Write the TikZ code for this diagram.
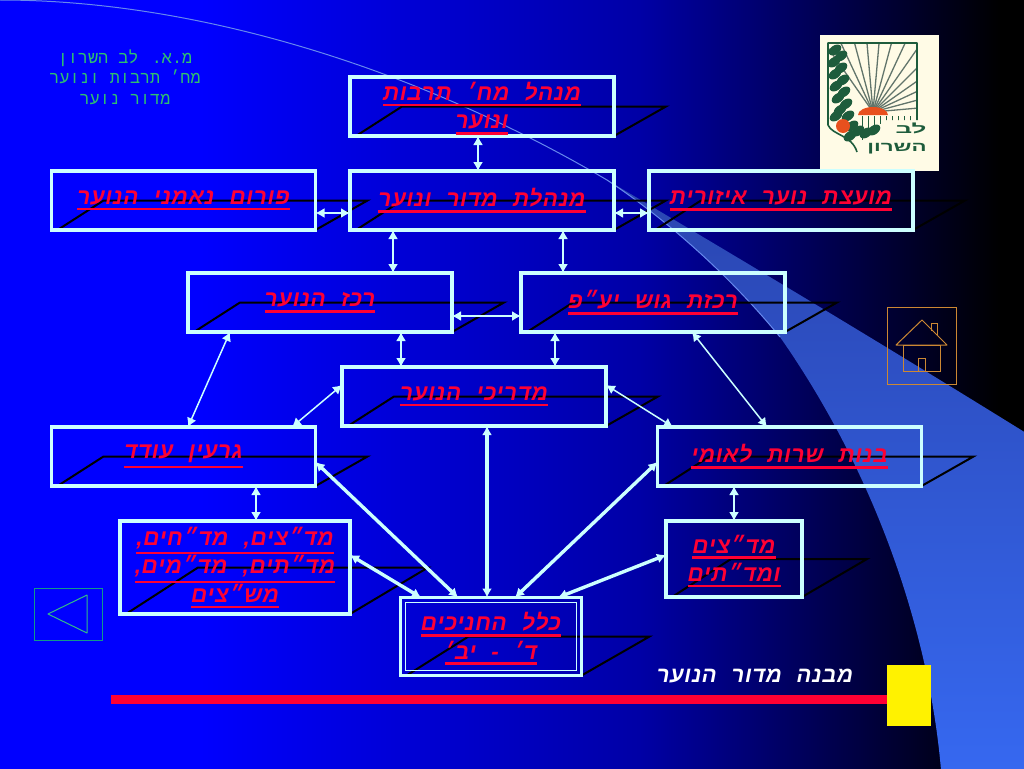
\documentclass[tikz,border=0pt]{standalone}
\usepackage{fontspec}
\usetikzlibrary{arrows.meta,calc,backgrounds}
\TeXXeTstate=1
\newfontfamily\hebfont[Script=Hebrew,WordSpace=2.2,LetterSpace=3]{Liberation Sans}
\newfontfamily\hebhead[Script=Hebrew]{Liberation Mono}
\newfontfamily\heblogo[Script=Hebrew]{Liberation Sans}
\definecolor{PaleCyan}{HTML}{CCFFFF}
\definecolor{SlideRed}{HTML}{FF0033}
\definecolor{SwooshTop}{HTML}{2A45B0}
\definecolor{SwooshLow}{HTML}{3668F0}
\definecolor{SwooshLine}{HTML}{6688EE}
\definecolor{HeadGreen}{HTML}{2FC070}
\definecolor{HomeOrange}{HTML}{CC8833}
\definecolor{BackTeal}{HTML}{119988}
\definecolor{BackGreen}{HTML}{33BB88}
\definecolor{LogoGreen}{HTML}{1E5C3C}
\definecolor{LogoCream}{HTML}{FFFBE6}
\definecolor{LogoSun}{HTML}{E8501E}
\newcommand{\hebline}[1]{\leavevmode\vtop{\hbox{\beginR #1\endR}\kern3.2pt\hrule height 2.3pt}}
\newcommand{\hebfirst}[1]{\leavevmode\vtop{\hbox{\rule{0pt}{22pt}\beginR #1\endR}\kern3.2pt\hrule height 2.3pt}}
\tikzset{
  panel/.style={draw=PaleCyan, line width=3.4pt, outer sep=0pt, inner sep=0pt, minimum height=59pt, minimum width=264pt, align=center, text=SlideRed, font=\hebfont\bfseries\itshape\fontsize{22.5}{28.5}\selectfont},
  thinlink/.style={<->, PaleCyan, line width=1.5pt},
  thicklink/.style={<->, PaleCyan, line width=3.4pt},
  shadowline/.style={black, line width=2pt},
}
\begin{document}
\begin{tikzpicture}[x=1pt, y=-1pt, >={Latex[length=9pt,width=10pt]}]
  \useasboundingbox (0,0) rectangle (1024,768);
  \begin{scope}[on background layer]
    \fill[blue] (-2,-2) rectangle (200.5,770);
    \shade[left color=blue, right color=blue!65!black] (200,-2) rectangle (640.5,770);
    \shade[left color=blue!65!black, right color=black] (640,-2) rectangle (1000.5,770);
    \fill[black] (1000,-2) rectangle (1026,770);
    %% swoosh
    \shade[top color=SwooshTop, bottom color=SwooshLow] (607,180) .. controls (700,235) and (860,330) .. (1026,433) -- (1026,770) -- (941,770) .. controls (930,640) and (880,480) .. (780,337) .. controls (725,270) and (660,215) .. (607,180) -- cycle;
    \draw[SwooshLine, line width=1pt] (0,0) .. controls (200,0) and (420,70) .. (607,180) .. controls (660,215) and (725,270) .. (780,337);
  \end{scope}

  %% Logo
  \fill[LogoCream] (820,35) rectangle (939,171);
  \begin{scope}
    \clip (828,43) -- (917,43) -- (917,120) -- (885,120) -- (857,145) -- (857,152) -- (850,140) -- (828,125) -- cycle;
    \foreach \ang in {125,115,105,95,85,75,65,55,45,35,25,15,5}
      \draw[gray!70!LogoGreen, line width=1.3pt] (873,112) -- ++(\ang:90pt);
    \foreach \stripe in {862,868,874,880,886,892,898,904,910}
      \draw[LogoGreen, line width=1pt] (\stripe,116) -- (\stripe,145);
  \end{scope}
  \draw[LogoGreen, line width=1.6pt, line join=round] (917,120) -- (917,43) -- (828,43) -- (828,125) .. controls (832,135) and (852,135) .. (857,152);
  \foreach \px/\py in {835/50,841/56,834/62,841/68,835/74,843/80,836/86,844/92,838/98,846/104,840/110,848/116,836/116,852/126,858/131,866/133,874/130,850/136}
    \fill[LogoGreen, rotate around={35:(\px,\py)}] (\px,\py) ellipse (7pt and 4.5pt);
  \fill[LogoSun] (858,115) arc[start angle=180, end angle=360, x radius=15, y radius=8] -- cycle;
  \fill[LogoSun] (843,126) circle (7pt);
  \node[LogoGreen, inner sep=0pt, xscale=2, transform shape, font=\heblogo\bfseries\fontsize{13}{13}\selectfont] (logotop) at (911,128) {\beginR לב\endR};
  \node[LogoGreen, inner sep=0pt, xscale=1.65, transform shape, font=\heblogo\bfseries\fontsize{13.5}{13.5}\selectfont] (logolow) at (897,149) {\beginR השרון\endR};

  %% Head text
  \node[HeadGreen, inner sep=0pt, align=center, font=\hebhead\fontsize{16.8}{20.5}\selectfont] (head) at (125,77) {\beginR מ.א. לב השרון\endR\\\beginR מח׳ תרבות ונוער\endR\\\beginR מדור נוער\endR};

  %% Boxes
  \node at (482,106.5) [panel](minhal){\hebfirst{מנהל מח׳ תרבות}\\\hebline{ונוער}};
  \node at (minhal) [yshift=-94pt, panel](mador){\hebline{מנהלת מדור ונוער}};
  \node at (mador) [xshift=-298.5pt, panel](forum){\hebline{פורום נאמני הנוער}};
  \node at (mador) [xshift=299pt, panel](moatza){\hebline{מועצת נוער איזורית}};
  \node at (mador) [xshift=-162pt, yshift=-102pt, panel](rakaz){\hebline{רכז הנוער}};
  \node at (mador) [xshift=171pt, yshift=-102pt, panel](rakezet){\hebline{רכזת גוש יע״פ}};
  \node at (mador) [xshift=-8pt, yshift=-196pt, panel](madrichim){\hebline{מדריכי הנוער}};
  \node at (forum) [yshift=-256pt, panel](garin){\hebline{גרעין עודד}};
  \node at (moatza) [xshift=8.5pt, yshift=-256pt, panel](banot){\hebline{בנות שרות לאומי}};
  \node at (garin) [xshift=51.5pt, yshift=-111pt, panel, minimum width=230pt, minimum height=93pt](madatzim){\hebline{מד״צים, מד״חים,}\\\hebline{מד״תים, מד״מים,}\\\hebline{מש״צים}};
  \node at (banot) [xshift=-55.5pt, yshift=-102.5pt, panel, minimum width=136pt, minimum height=76pt](madatim){\hebfirst{מד״צים}\\\hebline{ומד״תים}};
  \node at (mador) [xshift=9pt, yshift=-436pt, panel, minimum width=181pt, minimum height=78pt](klal){\hebfirst{כלל החניכים}\\\hebline{ד׳ - יב׳}};
  \draw[PaleCyan, line width=1pt] ([shift={(5pt,5pt)}]klal.south west) rectangle ([shift={(-5pt,-5pt)}]klal.north east);

  %% Shadows of the boxes
  \begin{scope}[on background layer]
    \foreach \nm/\dx in {minhal/52,mador/52,forum/52,moatza/52,rakaz/52,rakezet/52,madrichim/52,garin/52,banot/52,madatzim/78,madatim/65,klal/68}
      \draw[shadowline] ([xshift=6pt]\nm.south west) -- ([xshift=\dx pt]\nm.west) -- ([xshift=\dx pt]\nm.east) -- (\nm.south east);
  \end{scope}

  %% Arrows
  \draw[thinlink] ([xshift=-4pt]minhal.south) -- ([xshift=-4pt]mador.north);
  \draw[thinlink] ([yshift=-12.5pt]forum.east) -- ([yshift=-12.5pt]mador.west);
  \draw[thinlink] ([yshift=-12.5pt]mador.east) -- ([yshift=-12.5pt]moatza.west);
  \draw[thinlink] ([xshift=-89pt]mador.south) -- ([xshift=73pt]rakaz.north);
  \draw[thinlink] ([xshift=81pt]mador.south) -- ([xshift=-90pt]rakezet.north);
  \draw[thinlink] ([yshift=-13.5pt]rakaz.east) -- ([yshift=-13.5pt]rakezet.west);
  \draw[thinlink] ([xshift=81pt]rakaz.south) -- ([xshift=-73pt]madrichim.north);
  \draw[thinlink] ([xshift=-98pt]rakezet.south) -- ([xshift=81pt]madrichim.north);
  \draw[thinlink] ([xshift=-90pt]rakaz.south) -- ([xshift=4.5pt]garin.north);
  \draw[thinlink] ([yshift=11.5pt]madrichim.west) -- ([xshift=108.5pt]garin.north);
  \draw[thinlink] ([yshift=11.5pt]madrichim.east) -- ([xshift=-116.5pt]banot.north);
  \draw[thinlink] ([xshift=39pt]rakezet.south) -- ([xshift=-22.5pt]banot.north);
  \draw[thinlink] ([xshift=72.5pt]garin.south) -- ([xshift=21pt]madatzim.north);
  \draw[thinlink] ([xshift=-55.5pt]banot.south) -- (madatim.north);
  \draw[thicklink] ([xshift=-4pt]klal.north) -- ([xshift=13pt]madrichim.south);
  \draw[thicklink] ([xshift=-33pt]klal.north) -- ([yshift=-5.5pt]garin.east);
  \draw[thicklink] ([xshift=24pt]klal.north) -- ([yshift=-5.5pt]banot.west);
  \draw[thicklink] ([xshift=-70pt]klal.north) -- ([yshift=12.5pt]madatzim.east);
  \draw[thicklink] ([xshift=67pt]klal.north) -- ([yshift=4pt]madatim.west);

  %% Bottom bar and title
  \fill[SlideRed] (111,695) rectangle (887,704);
  \fill[yellow] (887,665) rectangle (931,726);
  \node[white, inner sep=0pt, font=\hebfont\bfseries\itshape\fontsize{22}{22}\selectfont] (title) at (755,676) {\beginR מבנה מדור הנוער\endR};

  %% Home button
  \draw[HomeOrange, line width=1pt] (887,307) rectangle (956,384);
  \draw[HomeOrange, line width=1pt, line join=round] (896,345) -- (922,320) -- (947,345) -- cycle;
  \draw[HomeOrange, line width=1pt] (903,345) rectangle (940,371);
  \draw[HomeOrange, line width=1pt] (918,371) rectangle (925,358);
  \draw[HomeOrange, line width=1pt] (931,331) -- (931,323) -- (937,323) -- (937,336);

  %% Back button
  \draw[BackTeal, line width=1pt] (34,588) rectangle (102,640);
  \draw[BackGreen, line width=1pt, line join=round] (48,614) -- (87,595) -- (87,633) -- cycle;
\end{tikzpicture}
\end{document}
